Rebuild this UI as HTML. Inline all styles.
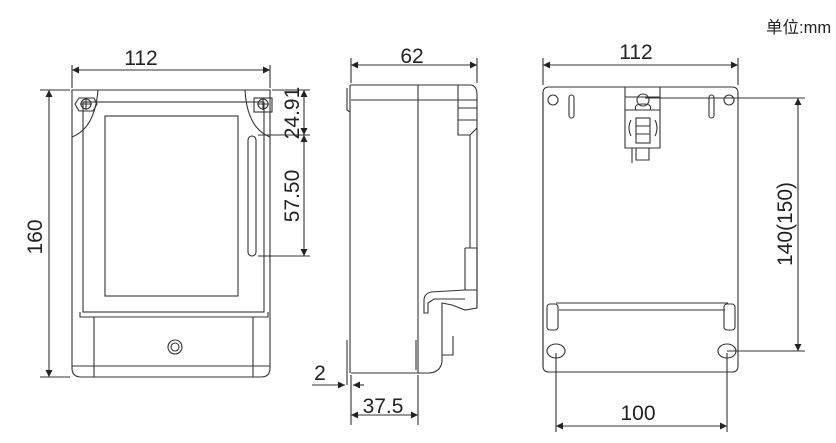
<!DOCTYPE html>
<html><head><meta charset="utf-8"><style>
html,body{margin:0;padding:0;background:#fff;}
svg{display:block;}
text{font-family:"Liberation Sans","Noto Sans CJK SC",sans-serif;fill:#222;}
</style></head><body>
<svg width="836" height="443" viewBox="0 0 836 443" xmlns="http://www.w3.org/2000/svg">
<defs>
<marker id="a" viewBox="0 0 10 10" refX="10" refY="5" markerWidth="9" markerHeight="7" orient="auto-start-reverse" markerUnits="userSpaceOnUse"><path d="M0,0L10,5L0,10z" fill="#222"/></marker>
</defs>
<text x="766" y="33" font-size="16.5">单位:mm</text>
<g fill="none" stroke="#333" stroke-width="1.1">
<path d="M72,90 H270 V368 Q270,377 261,377 H81 Q72,377 72,368 Z"/>
<rect x="83" y="102" width="181" height="210"/>
<rect x="105" y="116" width="133" height="180"/>
<rect x="248" y="136" width="8" height="120" rx="4"/>
<path d="M80,312 V317 H268 V312"/>
<path d="M94,317 V377 M253,317 V377 M72,366 H270"/>
<circle cx="175" cy="347" r="7"/><circle cx="175" cy="347" r="4"/>
<path d="M72,137 Q95,128 98,90 M270,137 Q247,128 245,90"/>
<path d="M79,98 L94,98 L97,104 L93,111 L79,111 L75,104Z"/>
<circle cx="86" cy="104" r="5"/><path d="M80,104H92M86,98V110"/>
<rect x="254" y="98" width="18" height="14"/>
<circle cx="263" cy="104" r="5"/><path d="M257,104H269M263,98V110"/>
<path d="M72,88 V65 M270,88 V65"/>
<path d="M72,70 H270" marker-start="url(#a)" marker-end="url(#a)"/>
<path d="M70,90 H40 M70,377 H40"/>
<path d="M49,90 V377" marker-start="url(#a)" marker-end="url(#a)"/>
<path d="M272,90 H310 M258,135 H310 M258,256 H310"/>
<path d="M304,90 V135" marker-start="url(#a)" marker-end="url(#a)"/>
<path d="M304,135 V256" marker-start="url(#a)" marker-end="url(#a)"/>
<path d="M350,85 H470 Q477,85 477,95 V308 L465,310 L452,305 L442,303 V355 H453 V336 M442,355 V362 Q440,373 428,373 H351"/>
<path d="M347,88 V110 L350,112 M350,85 V373"/>
<path d="M347,340 V385"/>
<path d="M351,100 H477"/>
<path d="M418,85 V373"/>
<path d="M458,85 V135 H470 M458,120 H477 M458,108 H477 M470,135 L477,128"/>
<path d="M470,135 V248 M465,248 H477 V308 M465,248 V290 M465,290 H477"/>
<path d="M465,290 L431,292 Q424,294 424,300 V313 H428 V303 L434,299 H465"/>
<path d="M416,340 V370"/>
<path d="M351,83 V58 M477,83 V58"/>
<path d="M351,65 H477" marker-start="url(#a)" marker-end="url(#a)"/>
<path d="M312,385 H345" marker-end="url(#a)"/>
<path d="M364,385 H353" marker-end="url(#a)"/>
<path d="M351,375 V425 M418,375 V425"/>
<path d="M351,415 H418" marker-start="url(#a)" marker-end="url(#a)"/>
<path d="M549,87 H732 Q738,87 738,93 V366 Q738,372 732,372 H549 Q543,372 543,366 V93 Q543,87 549,87 Z"/>
<path d="M543,93 V367"/>
<circle cx="553" cy="100" r="5"/><circle cx="729" cy="100" r="5"/>
<rect x="569" y="95" width="5" height="23" rx="2.5"/>
<rect x="709" y="95" width="5" height="23" rx="2.5"/>
<path d="M625,87 V148 H660 V87"/>
<circle cx="643" cy="100" r="6"/>
<path d="M625,97 H660 M625,110 H660 M636,110 Q633,104 643,104 Q653,104 650,110"/>
<rect x="636" y="118" width="14" height="25"/>
<path d="M636,126H650M636,134H650"/>
<path d="M631,120 Q627,128 631,136 M655,120 Q659,128 655,136"/>
<path d="M636,148 V160 H649 V148 M632,148 V163"/>
<path d="M556,303 H728 M559,310 H725"/>
<rect x="547" y="304" width="11" height="26" rx="3"/>
<rect x="724" y="304" width="11" height="26" rx="3"/>
<ellipse cx="556" cy="351" rx="9" ry="7"/>
<ellipse cx="727" cy="351" rx="9" ry="7"/>
<path d="M543,85 V58 M738,85 V58"/>
<path d="M543,65 H738" marker-start="url(#a)" marker-end="url(#a)"/>
<path d="M645,98 H805 M727,351 H805"/>
<path d="M798,98 V351" marker-start="url(#a)" marker-end="url(#a)"/>
<path d="M556,353 V432 M727,353 V432"/>
<path d="M556,426 H727" marker-start="url(#a)" marker-end="url(#a)"/>
</g>
<g font-size="21">
<text x="141" y="65" text-anchor="middle">112</text>
<text transform="translate(42,237) rotate(-90)" text-anchor="middle">160</text>
<text transform="translate(299,113) rotate(-90)" text-anchor="middle">24.91</text>
<text transform="translate(299,196) rotate(-90)" text-anchor="middle">57.50</text>
<text x="412" y="63" text-anchor="middle">62</text>
<text x="320" y="380" text-anchor="middle">2</text>
<text x="383" y="413" text-anchor="middle">37.5</text>
<text x="636" y="59" text-anchor="middle">112</text>
<text transform="translate(792,224) rotate(-90)" text-anchor="middle">140(150)</text>
<text x="638" y="420" text-anchor="middle">100</text>
</g>
</svg>
</body></html>
